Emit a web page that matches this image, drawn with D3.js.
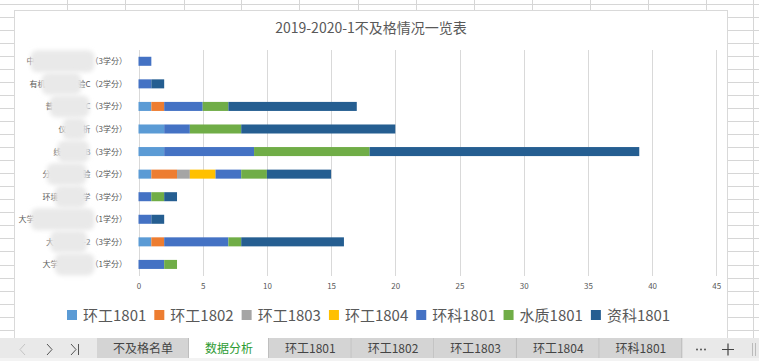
<!DOCTYPE html>
<html>
<head>
<meta charset="utf-8">
<script src="https://cdn.jsdelivr.net/npm/d3@7/dist/d3.min.js"></script>
<style>
  body { margin: 0; background: #fff; }
  svg { display: block; font-family: "Noto Sans CJK SC", "Noto Sans", sans-serif; }
</style>
</head>
<body>
<svg id="sheet" width="759" height="361"></svg>
<script>
// DATA (top row of chart first)
// each course label: [visible start, blurred part, visible end]
const courses = [
    ["中", "国近现代史纲要", "（3学分）"],
    ["有机", "化学及实", "验C（2学分）"],
    ["普", "通物理学", "C（3学分）"],
    ["仪", "器分", "析（3学分）"],
    ["线", "性代数", "B（3学分）"],
    ["分", "析化学实", "验（2学分）"],
    ["环境", "微生物", "学（3学分）"],
    ["大学", "生心理健康教育", "（1学分）"],
    ["大", "学物理B", "-2（3学分）"],
    ["大学", "物理实验", "（1学分）"]
];
const seriesNames = ["环工1801", "环工1802", "环工1803", "环工1804", "环科1801", "水质1801", "资科1801"];
const seriesColors = ["#5B9BD5", "#ED7D31", "#A5A5A5", "#FFC000", "#4472C4", "#70AD47", "#255E91"];

const hg1801 = [0, 0, 1, 2, 2, 1, 0, 0, 1, 0];
const hg1802 = [0, 0, 1, 0, 0, 2, 0, 0, 1, 0];
const hg1803 = [0, 0, 0, 0, 0, 1, 0, 0, 0, 0];
const hg1804 = [0, 0, 0, 0, 0, 2, 0, 0, 0, 0];
const hk1801 = [1, 1, 3, 2, 7, 2, 1, 1, 5, 2];
const sz1801 = [0, 0, 2, 4, 9, 2, 1, 0, 1, 1];
const zk1801 = [0, 1, 10, 12, 21, 5, 1, 1, 8, 0];

const xTicks = [0, 5, 10, 15, 20, 25, 30, 35, 40, 45];
const chartTitle = "2019-2020-1不及格情况一览表";
const sheetTabs = ["不及格名单", "数据分析", "环工1801", "环工1802", "环工1803", "环工1804", "环科1801"];
const activeTab = "数据分析";

const seriesValues = [hg1801, hg1802, hg1803, hg1804, hk1801, sz1801, zk1801];

// table for d3.stack
const table = courses.map((c, i) => {
    const row = { course: c.join("") };
    seriesNames.forEach((s, j) => row[s] = seriesValues[j][i]);
    return row;
});

const svg = d3.select("#sheet");
const textColor = "#595959";

// spreadsheet grid behind the chart
const grid = svg.append("g").attr("stroke", "#d6d6d6").attr("stroke-width", 1);
for (let y = 3.5; y < 338; y += 13.05) {
    grid.append("line").attr("x1", 0).attr("x2", 759).attr("y1", Math.round(y) + 0.5).attr("y2", Math.round(y) + 0.5);
}
[67, 125, 184, 241, 299, 358, 416, 474, 532, 590, 648, 706, 753].forEach(x => {
    grid.append("line").attr("x1", x + 0.5).attr("x2", x + 0.5).attr("y1", 0).attr("y2", 338);
});

// chart area
svg.append("rect")
    .attr("x", 14.5).attr("y", 10.5)
    .attr("width", 713).attr("height", 340)
    .attr("fill", "#fff").attr("stroke", "#d9d9d9");

svg.append("text")
    .attr("x", 371).attr("y", 33)
    .attr("text-anchor", "middle")
    .attr("font-size", 14)
    .attr("fill", textColor)
    .text(chartTitle);

// SCALES
const xScale = d3.scaleLinear().domain([0, 45]).range([138.5, 716.3]);
const yScale = d3.scaleBand()
    .domain(table.map(d => d.course))
    .range([50, 275.7])
    .paddingInner(0.6)
    .paddingOuter(0.3);

// gridlines
svg.append("g")
    .selectAll("line")
    .data(xTicks)
    .join("line")
    .attr("x1", d => Math.round(xScale(d)) + 0.5)
    .attr("x2", d => Math.round(xScale(d)) + 0.5)
    .attr("y1", 50).attr("y2", 276)
    .attr("stroke", "#d9d9d9").attr("stroke-width", 1);

// x axis labels
const xAxis = svg.append("g")
    .attr("transform", "translate(0,276)")
    .call(d3.axisBottom(xScale).tickValues(xTicks).tickSize(0).tickPadding(7));
xAxis.select(".domain").remove();
xAxis.selectAll("text")
    .attr("font-family", "\"Noto Sans CJK SC\", sans-serif")
    .attr("font-size", 8)
    .attr("fill", textColor);

// stacked bars
const stacked = d3.stack().keys(seriesNames)(table);
svg.append("g")
    .selectAll("g")
    .data(stacked)
    .join("g")
    .attr("fill", (d, i) => seriesColors[i])
    .selectAll("rect")
    .data(d => d)
    .join("rect")
    .attr("x", d => xScale(d[0]))
    .attr("width", d => xScale(d[1]) - xScale(d[0]))
    .attr("y", d => yScale(d.data.course))
    .attr("height", yScale.bandwidth());

// y labels, with the blurred middle part
const defs = svg.append("defs");
defs.append("filter").attr("id", "smear")
    .attr("x", "-30%").attr("y", "-60%").attr("width", "160%").attr("height", "220%")
    .append("feGaussianBlur").attr("stdDeviation", 2.2);

const labels = svg.append("g");
courses.forEach((c, i) => {
    const cy = yScale(table[i].course) + yScale.bandwidth() / 2;
    const t = labels.append("text")
        .attr("x", 127).attr("y", cy + 3)
        .attr("text-anchor", "end")
        .attr("font-size", 8)
        .attr("fill", textColor)
        .text(c.join(""));
    const node = t.node();
    const a = node.getStartPositionOfChar(c[0].length).x;
    const b = node.getEndPositionOfChar(c[0].length + c[1].length - 1).x;
    labels.append("rect")
        .attr("x", a - 4).attr("y", cy - 11)
        .attr("width", b - a + 8).attr("height", 22)
        .attr("rx", 7)
        .attr("fill", "#e9e9e9")
        .attr("filter", "url(#smear)");
});

// legend
const legend = svg.append("g").attr("transform", "translate(67,310)");
let lx = 0;
seriesNames.forEach((s, i) => {
    const item = legend.append("g").attr("transform", `translate(${lx},0)`);
    item.append("rect").attr("width", 10).attr("height", 10).attr("fill", seriesColors[i]);
    const t = item.append("text")
        .attr("x", 16).attr("y", 10.5)
        .attr("font-size", 15)
        .attr("fill", textColor)
        .text(s);
    lx += 16 + t.node().getComputedTextLength() + 8;
});

// sheet tab bar
const bar = svg.append("g");
bar.append("rect").attr("x", 0).attr("y", 338).attr("width", 759).attr("height", 23).attr("fill", "#e9e9e9");
bar.append("rect").attr("x", 0).attr("y", 358).attr("width", 759).attr("height", 3).attr("fill", "#f3f3f3");
bar.append("path").attr("d", "M25,344 L20,349.5 L25,355").attr("fill", "none").attr("stroke", "#c4c4c4").attr("stroke-width", 1);
bar.append("path").attr("d", "M47,344 L52,349.5 L47,355").attr("fill", "none").attr("stroke", "#555").attr("stroke-width", 1);
bar.append("path").attr("d", "M71,344 L76,349.5 L71,355 M78.5,344 L78.5,355").attr("fill", "none").attr("stroke", "#555").attr("stroke-width", 1);

let tx = 97;
sheetTabs.forEach(name => {
    const g = bar.append("g");
    const bg = g.append("rect").attr("y", 338).attr("height", 20)
        .attr("fill", name === activeTab ? "#ffffff" : "#d4d4d4");
    const t = g.append("text")
        .attr("y", 353)
        .attr("font-size", 12)
        .attr("fill", name === activeTab ? "#2e9b33" : "#444")
        .text(name);
    const w = t.node().getComputedTextLength() + 32;
    bg.attr("x", tx).attr("width", w);
    t.attr("x", tx + 16);
    g.append("line").attr("x1", tx + w - 0.5).attr("x2", tx + w - 0.5).attr("y1", 338).attr("y2", 358)
        .attr("stroke", "#bdbdbd");
    tx += w;
});
[697, 701, 705].forEach(x => {
    bar.append("circle").attr("cx", x).attr("cy", 349.5).attr("r", 0.9).attr("fill", "#444");
});
bar.append("path").attr("d", "M722,349.5 L734,349.5 M728,343.5 L728,355.5")
    .attr("stroke", "#444").attr("stroke-width", 1.2);
bar.append("path").attr("d", "M752.5,343 L752.5,356 M755.5,343 L755.5,356")
    .attr("stroke", "#bbb").attr("stroke-width", 1);
</script>
</body>
</html>
